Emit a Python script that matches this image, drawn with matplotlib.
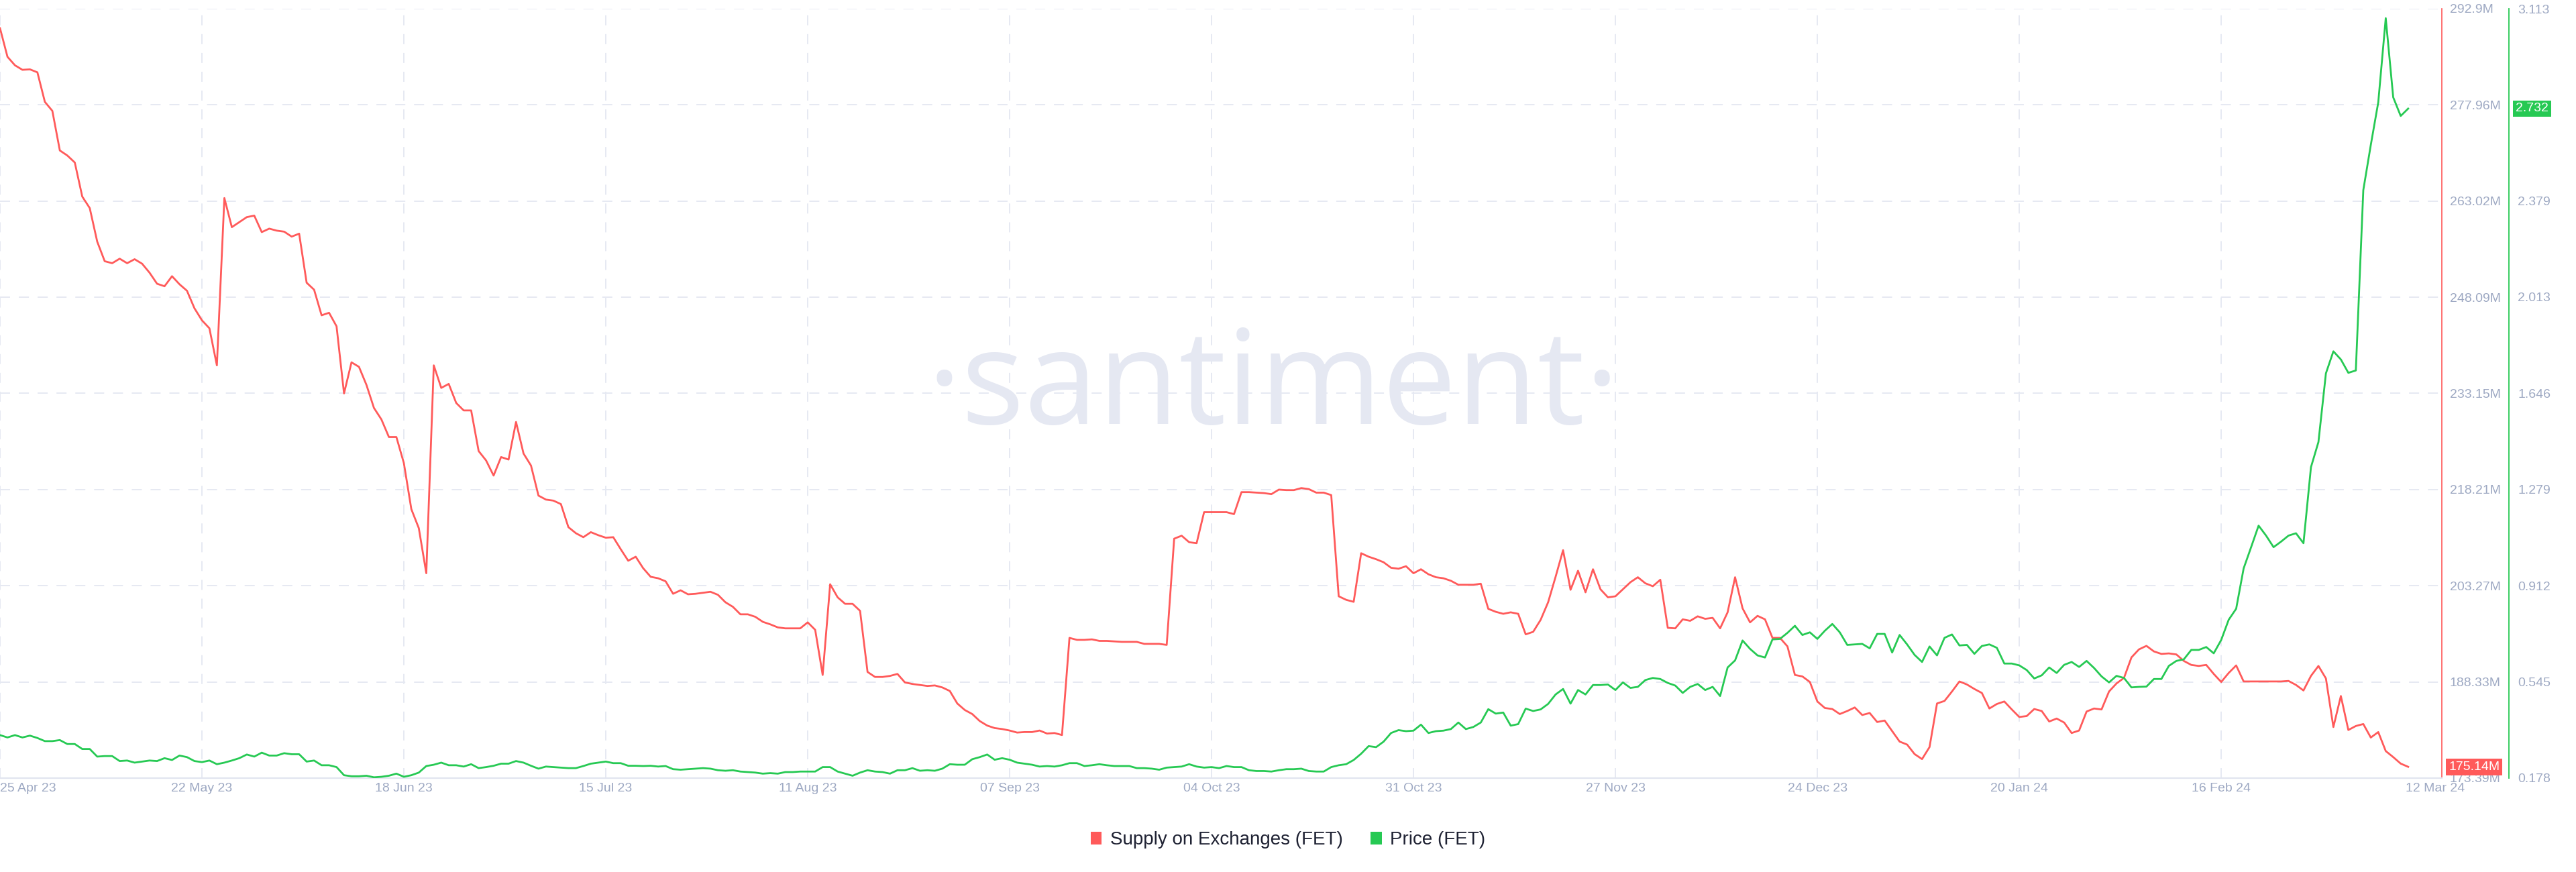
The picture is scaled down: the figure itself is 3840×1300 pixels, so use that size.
import pandas as pd
import matplotlib
matplotlib.use('Agg')
import matplotlib.pyplot as plt
import matplotlib.transforms as mtransforms
from matplotlib.patches import Patch

plt.rcParams['font.family'] = ['Liberation Sans', 'DejaVu Sans']
plt.rcParams['lines.scale_dashes'] = False

# daily data, first day 25 Apr 23
start = '2023-04-25'

supply = [  # Supply on Exchanges (FET), millions
    289.87, 285.43, 284.11, 283.41, 283.48, 283.02, 278.43, 277.03, 270.88, 270.10,
    269.01, 263.72, 261.93, 256.72, 253.68, 253.37, 254.07, 253.37, 253.99, 253.29,
    251.89, 250.18, 249.79, 251.35, 250.10, 249.09, 246.37, 244.50, 243.26, 237.50,
    263.49, 258.97, 259.75, 260.53, 260.76, 258.20, 258.74, 258.43, 258.27, 257.50,
    257.96, 250.34, 249.25, 245.28, 245.67, 243.57, 233.14, 237.97, 237.27, 234.46,
    230.89, 229.10, 226.37, 226.37, 222.33, 215.17, 212.21, 205.21, 237.50, 234.00,
    234.62, 231.66, 230.50, 230.50, 224.19, 222.72, 220.38, 223.26, 222.87, 228.71,
    223.81, 221.94, 217.27, 216.65, 216.49, 215.95, 212.37, 211.43, 210.81, 211.59,
    211.12, 210.73, 210.81, 208.94, 207.15, 207.78, 205.99, 204.66, 204.43, 203.96,
    202.02, 202.56, 201.94, 202.02, 202.17, 202.33, 201.86, 200.70, 199.99, 198.83,
    198.83, 198.44, 197.66, 197.27, 196.80, 196.65, 196.65, 196.65, 197.58, 196.42,
    189.41, 203.50, 201.47, 200.46, 200.46, 199.37, 189.88, 189.10, 189.10, 189.26,
    189.57, 188.25, 188.01, 187.86, 187.70, 187.78, 187.47, 186.92, 184.98, 183.97,
    183.34, 182.25, 181.55, 181.16, 181.01, 180.78, 180.46, 180.54, 180.54, 180.78,
    180.31, 180.39, 180.08, 195.17, 194.86, 194.86, 194.94, 194.70, 194.70, 194.62,
    194.55, 194.55, 194.55, 194.24, 194.24, 194.24, 194.08, 210.58, 211.04, 210.03,
    209.88, 214.70, 214.70, 214.70, 214.70, 214.39, 217.81, 217.81, 217.73, 217.66,
    217.50, 218.20, 218.12, 218.12, 218.44, 218.28, 217.73, 217.73, 217.35, 201.63,
    201.08, 200.77, 208.32, 207.78, 207.39, 206.92, 206.06, 205.91, 206.30, 205.21,
    205.83, 205.05, 204.59, 204.43, 204.04, 203.42, 203.42, 203.42, 203.58, 199.68,
    199.22, 198.91, 199.14, 198.91, 195.72, 196.11, 197.97, 200.70, 204.66, 208.79,
    202.64, 205.60, 202.25, 205.83, 202.72, 201.47, 201.63, 202.72, 203.81, 204.59,
    203.65, 203.19, 204.20, 196.73, 196.65, 198.05, 197.82, 198.52, 198.13, 198.28,
    196.65, 199.14, 204.59, 199.76, 197.58, 198.59, 198.05, 195.17, 195.17, 193.85,
    189.41, 189.18, 188.32, 185.29, 184.28, 184.12, 183.34, 183.81, 184.36, 183.19,
    183.50, 182.10, 182.33, 180.70, 179.06, 178.60, 177.12, 176.34, 178.21, 184.98,
    185.37, 186.84, 188.40, 187.93, 187.23, 186.61, 184.20, 184.90, 185.29, 184.05,
    182.88, 183.03, 184.12, 183.81, 182.18, 182.64, 182.02, 180.39, 180.78, 183.73,
    184.20, 184.05, 186.84, 188.09, 188.95, 192.14, 193.38, 193.93, 193.07, 192.68,
    192.76, 192.60, 191.59, 190.97, 190.81, 190.97, 189.57, 188.32, 189.72, 190.89,
    188.40, 188.40, 188.40, 188.40, 188.40, 188.40, 188.48, 187.86, 187.00, 189.26,
    190.81, 188.87, 181.32, 186.14, 180.86, 181.48, 181.79, 179.69, 180.54, 177.59,
    176.65, 175.64, 175.14,
]

price = [  # Price (FET), USD
    0.342, 0.333, 0.342, 0.333, 0.340, 0.331, 0.319, 0.319, 0.323, 0.308,
    0.308, 0.289, 0.289, 0.260, 0.262, 0.262, 0.243, 0.245, 0.237, 0.241,
    0.245, 0.243, 0.254, 0.247, 0.264, 0.258, 0.243, 0.239, 0.245, 0.231,
    0.237, 0.245, 0.254, 0.268, 0.260, 0.275, 0.264, 0.264, 0.273, 0.269,
    0.269, 0.241, 0.245, 0.227, 0.227, 0.220, 0.189, 0.185, 0.185, 0.187,
    0.181, 0.183, 0.187, 0.195, 0.183, 0.189, 0.199, 0.224, 0.229, 0.237,
    0.227, 0.227, 0.222, 0.231, 0.216, 0.220, 0.225, 0.233, 0.233, 0.243,
    0.237, 0.225, 0.214, 0.222, 0.220, 0.218, 0.216, 0.216, 0.224, 0.233,
    0.237, 0.241, 0.235, 0.235, 0.225, 0.225, 0.224, 0.225, 0.222, 0.224,
    0.212, 0.210, 0.212, 0.214, 0.216, 0.214, 0.208, 0.206, 0.208, 0.203,
    0.201, 0.199, 0.195, 0.197, 0.195, 0.201, 0.201, 0.203, 0.203, 0.203,
    0.220, 0.220, 0.203, 0.195, 0.187, 0.199, 0.208, 0.203, 0.201, 0.195,
    0.208, 0.208, 0.216, 0.206, 0.208, 0.206, 0.214, 0.231, 0.229, 0.229,
    0.250, 0.258, 0.268, 0.248, 0.254, 0.248, 0.237, 0.233, 0.229, 0.222,
    0.224, 0.222, 0.227, 0.235, 0.235, 0.224, 0.227, 0.231, 0.227, 0.224,
    0.224, 0.224, 0.216, 0.216, 0.214, 0.210, 0.218, 0.220, 0.222, 0.231,
    0.222, 0.218, 0.220, 0.216, 0.224, 0.220, 0.220, 0.208, 0.205, 0.205,
    0.203, 0.208, 0.212, 0.212, 0.214, 0.205, 0.203, 0.203, 0.220, 0.227,
    0.231, 0.247, 0.271, 0.300, 0.296, 0.317, 0.350, 0.361, 0.357, 0.359,
    0.382, 0.350, 0.357, 0.359, 0.365, 0.390, 0.365, 0.373, 0.390, 0.441,
    0.424, 0.428, 0.378, 0.384, 0.443, 0.434, 0.440, 0.461, 0.497, 0.518,
    0.462, 0.514, 0.497, 0.533, 0.533, 0.535, 0.514, 0.543, 0.522, 0.526,
    0.552, 0.560, 0.556, 0.541, 0.531, 0.503, 0.526, 0.537, 0.514, 0.526,
    0.491, 0.600, 0.627, 0.703, 0.671, 0.646, 0.638, 0.707, 0.709, 0.732,
    0.759, 0.724, 0.734, 0.709, 0.740, 0.766, 0.734, 0.686, 0.688, 0.690,
    0.673, 0.728, 0.728, 0.657, 0.724, 0.688, 0.648, 0.621, 0.680, 0.646,
    0.713, 0.726, 0.684, 0.686, 0.652, 0.682, 0.688, 0.675, 0.615, 0.615,
    0.608, 0.590, 0.558, 0.570, 0.600, 0.579, 0.610, 0.621, 0.602, 0.625,
    0.598, 0.566, 0.543, 0.568, 0.560, 0.524, 0.526, 0.527, 0.556, 0.556,
    0.606, 0.625, 0.631, 0.667, 0.667, 0.678, 0.654, 0.705, 0.782, 0.824,
    0.978, 1.059, 1.141, 1.103, 1.059, 1.080, 1.103, 1.112, 1.074, 1.364,
    1.460, 1.722, 1.806, 1.775, 1.724, 1.733, 2.421, 2.593, 2.756, 3.077,
    2.775, 2.704, 2.732,
]

x_ticks = ['2023-04-25', '2023-05-22', '2023-06-18', '2023-07-15', '2023-08-11', '2023-09-07',
           '2023-10-04', '2023-10-31', '2023-11-27', '2023-12-24', '2024-01-20', '2024-02-16']
x_tick_labels = ['25 Apr 23', '22 May 23', '18 Jun 23', '15 Jul 23', '11 Aug 23', '07 Sep 23',
                 '04 Oct 23', '31 Oct 23', '27 Nov 23', '24 Dec 23', '20 Jan 24', '16 Feb 24']
last_date, last_label = '2024-03-12', '12 Mar 24'

supply_ticks = [173.39, 188.33, 203.27, 218.21, 233.15, 248.09, 263.02, 277.96, 292.9]
supply_tick_labels = ['173.39M', '188.33M', '203.27M', '218.21M', '233.15M',
                      '248.09M', '263.02M', '277.96M', '292.9M']
price_ticks = [0.178, 0.545, 0.912, 1.279, 1.646, 2.013, 2.379, 2.746, 3.113]
price_tick_labels = ['0.178', '0.545', '0.912', '1.279', '1.646', '2.013', '2.379', '2.746', '3.113']

RED = '#ff5a5a'
GREEN = '#26c953'
GRID = '#e6e9f2'
LABEL = '#9ea9c3'

fig = plt.figure(figsize=(38.4, 13), dpi=100)
fig.patch.set_facecolor('white')
ax = fig.add_axes([0, 140 / 1300, 3640 / 3840, 1147 / 1300])
ax.set_facecolor('none')
ax2 = ax.twinx()

# watermark behind everything
fig.text(1898 / 3840, 668 / 1300, '·santiment·', ha='center', va='baseline',
         fontsize=142, color='#e5e8f2', family='Open Sans', zorder=-1)

dates_s = pd.date_range(start, periods=len(supply), freq='D')
dates_p = pd.date_range(start, periods=len(price), freq='D')
ax.plot(dates_s, supply, color=RED, lw=2.0)
ax2.plot(dates_p, price, color=GREEN, lw=2.0)

t0 = pd.Timestamp(start)
ax.set_xlim(t0, t0 + pd.Timedelta(days=326.5))
ax.set_ylim(173.39, 292.9)
ax2.set_ylim(0.178, 3.113)

# y axes on the right
ax.yaxis.set_ticks_position('right')
ax.set_yticks(supply_ticks, supply_tick_labels)
ax2.set_yticks(price_ticks, price_tick_labels)
ax.tick_params(axis='y', length=0, pad=8.5, labelsize=14, labelcolor=LABEL)
ax2.tick_params(axis='y', length=0, pad=9.5, labelsize=14, labelcolor=LABEL)

ax.set_xticks(pd.to_datetime(x_ticks), x_tick_labels)
ax.tick_params(axis='x', length=0, pad=5, labelsize=14, labelcolor=LABEL)
plt.setp(ax.get_xticklabels()[0], ha='left')
ax.annotate(last_label, xy=(pd.Timestamp(last_date), 0), xycoords=('data', 'axes fraction'),
            xytext=(28.8, -5), textcoords='offset points', ha='center', va='top',
            fontsize=14, color=LABEL)

ax.grid(True, color=GRID, lw=1.4, linestyle=(0, (10.8, 9.4)))

for s in ['left', 'top']:
    ax.spines[s].set_visible(False)
for s in ['left', 'top', 'bottom']:
    ax2.spines[s].set_visible(False)
ax.spines['bottom'].set_color('#e1e5ef')
ax.spines['bottom'].set_linewidth(1.6)
ax.spines['right'].set_color(RED)
ax.spines['right'].set_linewidth(1.2)
ax2.spines['right'].set_position(('axes', 3740 / 3640))
ax2.spines['right'].set_color(GREEN)
ax2.spines['right'].set_linewidth(1.3)

# last value boxes
tr_red = mtransforms.blended_transform_factory(ax2.transAxes, ax.transData)
ax2.text(1.0028, supply[-1], f'{supply[-1]:.2f}M', transform=tr_red, ha='left', va='center',
         fontsize=14, color='white', zorder=10,
         bbox=dict(boxstyle='square,pad=0.2', fc=RED, ec='none'))
tr_green = mtransforms.blended_transform_factory(ax2.transAxes, ax2.transData)
ax2.text(3750 / 3640, price[-1], f'{price[-1]:.3f}', transform=tr_green, ha='left', va='center',
         fontsize=14, color='white', zorder=10,
         bbox=dict(boxstyle='square,pad=0.2', fc=GREEN, ec='none'))

handles = [Patch(facecolor=RED, label='Supply on Exchanges (FET)'),
           Patch(facecolor=GREEN, label='Price (FET)')]
fig.legend(handles=handles, loc='center', bbox_to_anchor=(0.5, 48 / 1300), ncol=2,
           frameon=False, fontsize=20, handlelength=0.6, handleheight=0.65,
           handletextpad=0.45, columnspacing=1.5, labelcolor='#1f2233')

fig.savefig('out.png', dpi=100)
